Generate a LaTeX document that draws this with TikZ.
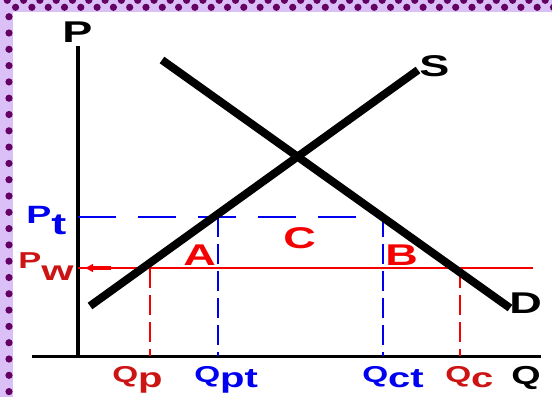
\documentclass[tikz,border=0pt]{standalone}
\usepackage{fontspec}
\usepackage{graphicx}
\setmainfont{Liberation Sans}
\usetikzlibrary{arrows.meta}
\definecolor{blue}{RGB}{0,0,240}
\definecolor{red}{RGB}{245,0,0}
\definecolor{darkred}{RGB}{205,20,20}
\definecolor{lilac}{RGB}{218,192,246}
\definecolor{plum}{RGB}{100,0,100}
\newcommand{\dropsub}[3]{\raisebox{-#1}{\scalebox{#2}{#3}}}

\begin{document}
\begin{tikzpicture}[x=1pt, y=-1pt, font=\bfseries,
  big/.style={inner sep=0pt, anchor=base west, xscale=1.5, font=\fontsize{30}{30}\selectfont\bfseries},
  mid/.style={inner sep=0pt, anchor=base west, xscale=1.45, font=\fontsize{23}{23}\selectfont\bfseries},
  curve/.style={line width=8pt},
  axis/.style={line width=3.5pt},
  hdash/.style={blue, line width=1.6pt, dash pattern=on 38pt off 22pt},
  vdash/.style={line width=1.8pt, dash pattern=on 20pt off 7pt}]
\useasboundingbox (0,0) rectangle (552,397);
\fill[white] (0,0) rectangle (552,397);
\fill[lilac] (0,0) rectangle (552,11.5);
\fill[lilac] (0,0) rectangle (12.5,397);
\foreach \i in {0,...,33} {
  \fill[plum] (7.3+16.3*\i,0.3) circle (3.6pt);
  \fill[plum] (15.6+16.3*\i,7.3) circle (3.6pt);
}
\foreach \j in {0,...,23}
  \fill[plum] (9,16.7+16.3*\j) circle (3.6pt);

\coordinate (ptop) at (78,46);
\coordinate (porig) at (78,356);
\coordinate (qleft) at (32,356);
\coordinate (qright) at (541,356);
\coordinate (s1) at (90,306);
\coordinate (s2) at (418,70);
\coordinate (d1) at (162,60);
\coordinate (d2) at (510,308);
\coordinate (pt) at (78,217);
\coordinate (pw) at (78,268);
\coordinate (pwend) at (533,268);
\coordinate (qpt) at (218,217);
\coordinate (qct) at (383,217);
\coordinate (qp) at (150,268);
\coordinate (qc) at (460,268);
\coordinate (arr1) at (111,268);
\coordinate (arr2) at (84,268);

\draw[axis] (ptop) -- (porig);
\draw[line width=3pt] (qleft) -- (qright);
\draw[hdash] (pt) -- (qct);
\draw[vdash, blue] (qpt) -- (qpt |- porig);
\draw[vdash, blue] (qct) -- (qct |- porig);
\draw[red, line width=1.8pt] (pw) -- (pwend);
\draw[vdash, red] (qp) -- (qp |- porig);
\draw[vdash, red] (qc) -- (qc |- porig);
\draw[red, line width=3.5pt, -{Latex[length=9pt, width=9pt]}] (arr1) -- (arr2);
\draw[curve] (s1) -- (s2);
\draw[curve] (d1) -- (d2);

\node[big] (plbl) at (62,42) {P};
\node[big] (slbl) at (419,76) {S};
\node[big] (dlbl) at (509,313) {D};
\node[mid, font=\fontsize{26}{26}\selectfont\bfseries] (qlbl) at (511,384) {Q};
\node[big, red] (albl) at (183,265) {A};
\node[big, red] (blbl) at (385,265) {B};
\node[big, red] (clbl) at (283,248) {C};
\node[big, blue, font=\fontsize{25}{25}\selectfont\bfseries] (ptlbl) at (26,223) {P\dropsub{0.45em}{1.2}{t}};
\node[big, darkred, font=\fontsize{23}{23}\selectfont\bfseries] (pwlbl) at (18,268) {P\dropsub{0.55em}{1.2}{w}};
\node[mid, darkred] (qplbl) at (112,382) {Q\dropsub{0.25em}{1.2}{p}};
\node[mid, blue] (qptlbl) at (194,382) {Q\dropsub{0.25em}{1.2}{pt}};
\node[mid, blue] (qctlbl) at (362,382) {Q\dropsub{0.25em}{1.2}{ct}};
\node[mid, darkred] (qclbl) at (445,382) {Q\dropsub{0.25em}{1.2}{c}};
\end{tikzpicture}
\end{document}
